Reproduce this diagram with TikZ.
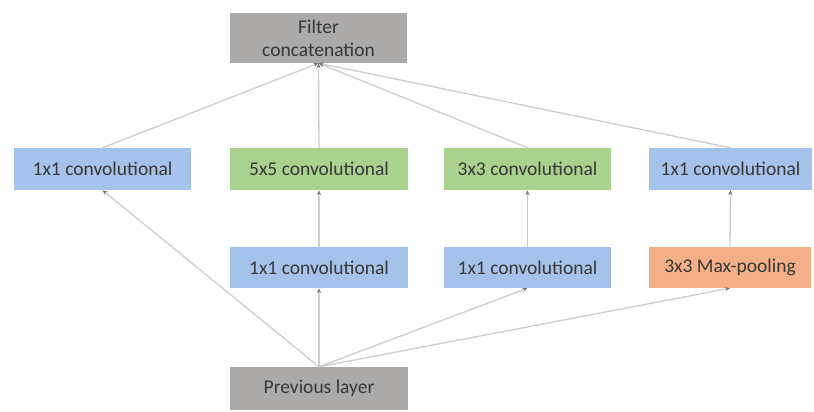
\documentclass[tikz,border=0pt]{standalone}
\usepackage{fontspec}
\setmainfont{Carlito}
\usepackage{tikz}
\usetikzlibrary{arrows.meta}

\begin{document}
\begin{tikzpicture}[x=1pt,y=1pt,
		layerbox/.style={inner sep=0pt,minimum height=42pt,text=black!78,font=\fontsize{19.5}{23}\selectfont},
		link/.style={color=linegray,line width=1.3pt,-{Stealth[length=5pt,width=4pt,color=tipgray]}}]
			\definecolor{boxgray}{RGB}{172,169,169}
			\definecolor{boxblue}{RGB}{165,195,234}
			\definecolor{boxgreen}{RGB}{168,210,142}
			\definecolor{boxorange}{RGB}{245,175,135}
			\definecolor{linegray}{RGB}{205,205,205}
			\definecolor{tipgray}{RGB}{120,120,120}
			\useasboundingbox (0,0) rectangle (814,412);
			% output and input
				\node[layerbox,fill=boxgray,minimum width=177pt,minimum height=50pt,align=center] (concat) at (318.5,374) {Filter\\concatenation};
				\node[layerbox,fill=boxgray,minimum width=178pt,minimum height=43pt] (prev) at (319,23.5) {Previous layer};
			% upper row
				\node[layerbox,fill=boxblue,minimum width=177pt] (conva) at (102.5,243) {1x1 convolutional};
				\node[layerbox,fill=boxgreen,minimum width=178pt] (convb) at (319,243) {5x5 convolutional};
				\node[layerbox,fill=boxgreen,minimum width=167pt] (convc) at (527.5,243) {3x3 convolutional};
				\node[layerbox,fill=boxblue,minimum width=163pt] (convd) at (730.5,243) {1x1 convolutional};
			% lower row
				\node[layerbox,fill=boxblue,minimum width=178pt,minimum height=41pt] (redb) at (319,144.5) {1x1 convolutional};
				\node[layerbox,fill=boxblue,minimum width=167pt,minimum height=41pt] (redc) at (527.5,144.5) {1x1 convolutional};
				\node[layerbox,fill=boxorange,minimum width=162pt,minimum height=41pt] (pool) at (730,144.5) {3x3 Max-pooling};
			% previous layer to the branches
				\draw [link] (prev.north) -- (conva.south);
				\draw [link] (prev.north) -- (redb.south);
				\draw [link] (prev.north) -- (redc.south);
				\draw [link] (prev.north) -- (pool.south);
				\draw [link] (redb.north) -- (convb.south);
				\draw [link] (redc.north) -- (convc.south);
				\draw [link] (pool.north) -- (convd.south);
			% branches to the concatenation
				\draw [link] (conva.north) -- (concat.south);
				\draw [link] (convb.north) -- (concat.south);
				\draw [link] (convc.north) -- (concat.south);
				\draw [link] (convd.north) -- (concat.south);
\end{tikzpicture}
\end{document}
